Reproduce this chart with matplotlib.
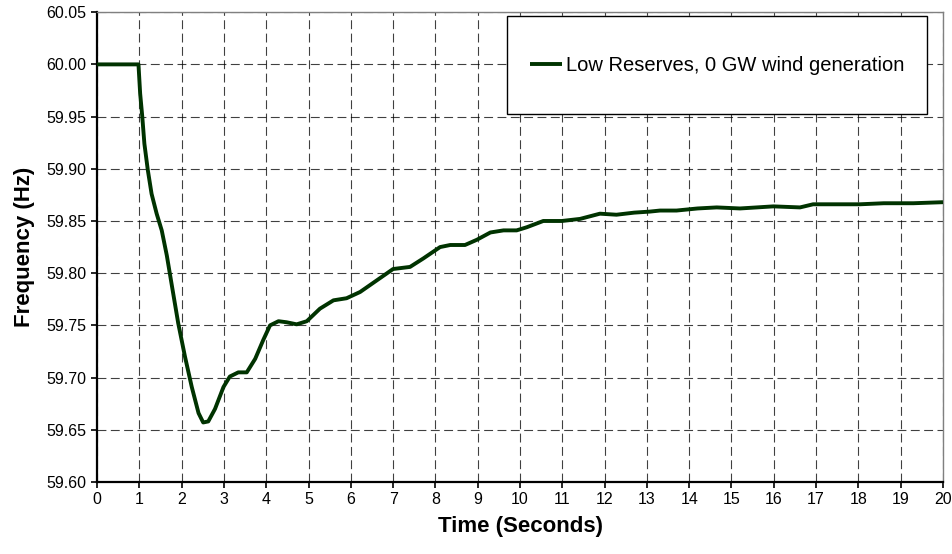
import matplotlib
matplotlib.use("Agg")
import matplotlib.pyplot as plt
from matplotlib.patches import Rectangle

plt.rcParams['font.family'] = ['Liberation Sans', 'DejaVu Sans']

# frequency response (time in s, frequency in Hz)
time_s = [0.0, 0.98, 1.02, 1.07, 1.12, 1.20, 1.29, 1.41, 1.53, 1.65, 1.77,
          1.92, 2.08, 2.24, 2.40, 2.51, 2.63, 2.79, 2.99, 3.14, 3.34, 3.54,
          3.74, 3.93, 4.09, 4.29, 4.48, 4.72, 4.96, 5.27, 5.59, 5.90, 6.22,
          6.61, 7.00, 7.40, 7.71, 8.11, 8.35, 8.70, 8.98, 9.30, 9.61, 9.92,
          10.16, 10.55, 10.99, 11.42, 11.89, 12.28, 12.70, 13.07, 13.31,
          13.70, 14.20, 14.65, 15.20, 15.60, 15.99, 16.62, 16.93, 17.50,
          18.04, 18.60, 19.30, 20.0]
freq_hz = [60.000, 60.000, 59.972, 59.950, 59.924, 59.899, 59.876, 59.857,
           59.841, 59.817, 59.788, 59.752, 59.720, 59.691, 59.666, 59.657,
           59.658, 59.670, 59.691, 59.701, 59.705, 59.705, 59.718, 59.736,
           59.750, 59.754, 59.753, 59.751, 59.754, 59.766, 59.774, 59.776,
           59.782, 59.793, 59.804, 59.806, 59.814, 59.825, 59.827, 59.827,
           59.832, 59.839, 59.841, 59.841, 59.844, 59.850, 59.850, 59.852,
           59.857, 59.856, 59.858, 59.859, 59.860, 59.860, 59.862, 59.863,
           59.862, 59.863, 59.864, 59.863, 59.866, 59.866, 59.866, 59.867,
           59.867, 59.868]
series_label = "Low Reserves, 0 GW wind generation"

x_ticks = list(range(0, 21))
y_ticks = [59.60, 59.65, 59.70, 59.75, 59.80, 59.85, 59.90, 59.95, 60.00, 60.05]

fig = plt.figure(figsize=(9.53, 5.54), dpi=100)
ax = fig.add_axes([0.1018, 0.130, 0.8877, 0.848])

ax.plot(time_s, freq_hz, color="#003300", lw=2.8, label=series_label, zorder=3,
        solid_joinstyle="round", solid_capstyle="butt")

ax.set_xlim(0, 20)
ax.set_ylim(59.60, 60.05)
ax.set_xticks(x_ticks)
ax.set_yticks(y_ticks)
ax.set_yticklabels([f"{v:.2f}" for v in y_ticks])
ax.tick_params(direction="out", length=4, width=1.2, labelsize=11.5, color="black")

ax.grid(True, color="black", lw=0.8, linestyle=(0, (8, 4)), alpha=0.75)
ax.set_axisbelow(True)

for side in ["left", "bottom"]:
    ax.spines[side].set_linewidth(1.6)
    ax.spines[side].set_color("black")
for side in ["top", "right"]:
    ax.spines[side].set_linewidth(1.0)
    ax.spines[side].set_color("#808080")

ax.set_xlabel("Time (Seconds)", fontsize=16, fontweight="bold", labelpad=6)
ax.set_ylabel("Frequency (Hz)", fontsize=16, fontweight="bold", labelpad=8)

# legend box
ax.add_patch(Rectangle((0.4846, 0.783), 0.497, 0.2085, transform=ax.transAxes,
                       facecolor="white", edgecolor="black", lw=1.0, zorder=4))
leg = ax.legend(loc="center", bbox_to_anchor=(0.7335, 0.8872), frameon=False,
                fontsize=14.5, handlelength=1.6, handletextpad=0.2)
leg.set_zorder(5)

fig.savefig("out.png", dpi=100)
plt.close()
